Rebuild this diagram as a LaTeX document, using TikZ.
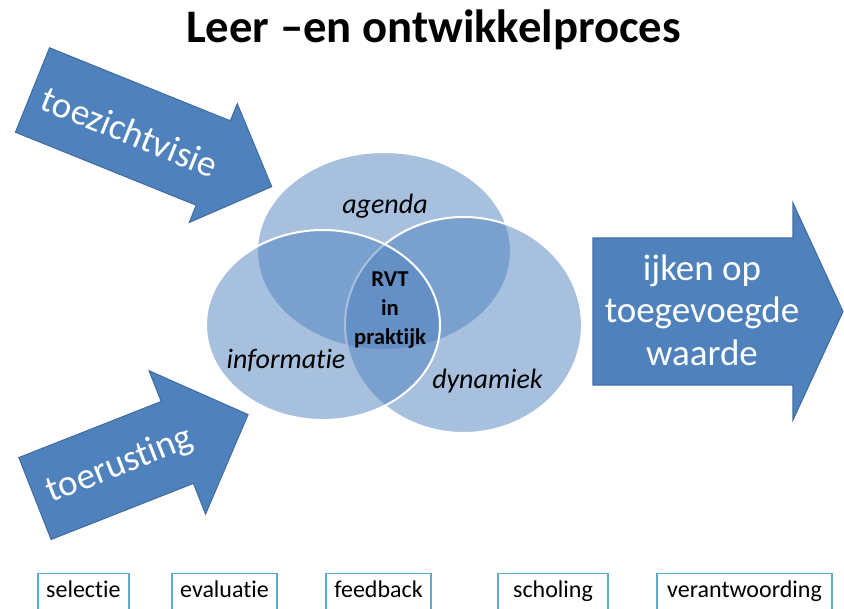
\documentclass[tikz,border=0pt]{standalone}
\usepackage{fontspec}
\setmainfont{Carlito}[Ligatures=NoCommon]

\definecolor{arrowblue}{RGB}{79,129,189}
\definecolor{arrowedge}{RGB}{65,109,162}
\definecolor{vennblue}{RGB}{79,129,189}
\definecolor{boxedge}{RGB}{92,172,204}

\begin{document}
\begin{tikzpicture}[x=0.75pt, y=-0.75pt,
  arr/.style={fill=arrowblue, draw=arrowedge, line width=0.8pt},
  arrtext/.style={text=white, font=\fontsize{27.75}{32}\selectfont},
  venn/.style={fill=vennblue, fill opacity=0.5, draw=white, line width=1.5pt},
  venntext/.style={anchor=base, font=\fontsize{21}{25}\selectfont\itshape},
  tag/.style={draw=boxedge, line width=1.1pt, anchor=north, minimum height=29.25pt,
    inner xsep=0pt, text height=12.75pt, text depth=6pt, font=\fontsize{18}{20}\selectfont}]

\useasboundingbox (0,0) rectangle (844,608);

\node[anchor=base, font=\fontsize{35}{40}\selectfont\bfseries] (titel) at (433.5,42) {Leer –en ontwikkelproces};

% pijl linksboven
\begin{scope}[shift={(32.5,90)}, rotate=-22]
\filldraw[arr] (0,-45.5) -- (195,-45.5) -- (195,-64) -- (258,0) -- (195,64) -- (195,45.5) -- (0,45.5) -- cycle;
\node[arrtext, anchor=base, rotate=-22] (visie) at (106,15) {toezichtvisie};
\end{scope}

% pijl linksonder
\begin{scope}[shift={(35,498.5)}, rotate=21.5]
\filldraw[arr] (0,-44) -- (153,-44) -- (153,-77) -- (229,0) -- (153,77) -- (153,44) -- (0,44) -- cycle;
\node[arrtext, anchor=base, rotate=21.5] (rusting) at (91,10) {toerusting};
\end{scope}

% pijl rechts
\filldraw[arr] (593,238) -- (793,238) -- (793,203) -- (843,311.5) -- (793,420) -- (793,385) -- (593,385) -- cycle;
\node[arrtext, align=center] (ijken) at (702,310) {ijken op\\toegevoegde\\waarde};

% venn
\filldraw[venn] (384,251) ellipse [x radius=127, y radius=99];
\filldraw[venn] (463.5,325) ellipse [x radius=118.5, y radius=108];
\filldraw[venn] (323,325) ellipse [x radius=117, y radius=95];

\node[venntext] (agenda) at (385,213) {agenda};
\node[venntext] (info) at (286,368.5) {informatie};
\node[venntext] (dyn) at (487.5,388.5) {dynamiek};
\node[align=center, font=\fontsize{17}{21.5}\selectfont\bfseries] (rvt) at (390,310) {RVT\\in\\praktijk};

% onderste rij
\node[tag, minimum width=68.25pt] (selectie) at (83.4,573) {selectie};
\node[tag, minimum width=78.75pt] (evaluatie) at (224.5,573) {evaluatie};
\node[tag, minimum width=78.75pt] (feedback) at (378.5,573) {feedback};
\node[tag, minimum width=82.5pt] (scholing) at (553,573) {scholing};
\node[tag, minimum width=131.25pt] (verantw) at (744.5,573) {verantwoording};

\end{tikzpicture}
\end{document}
